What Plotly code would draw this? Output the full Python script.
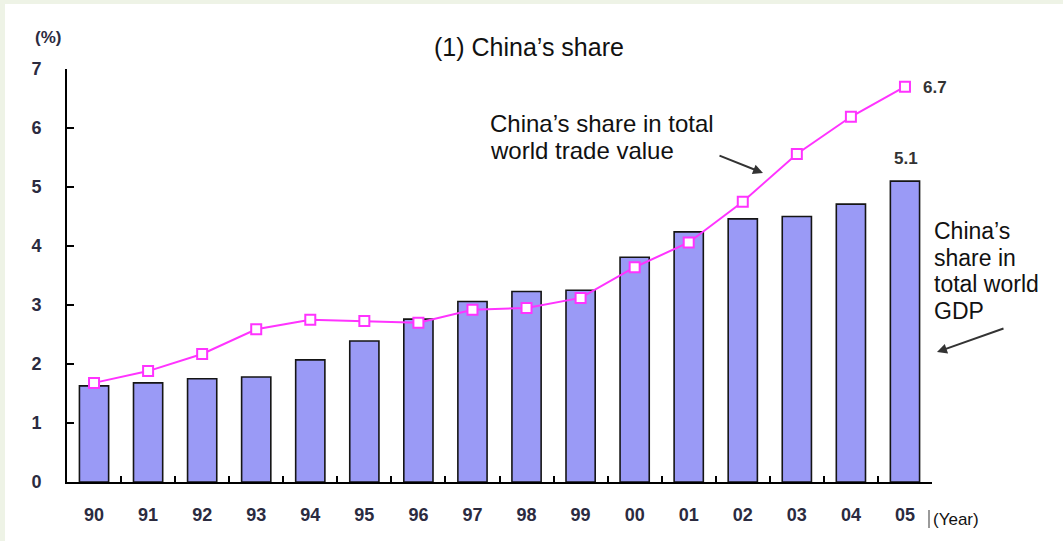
import plotly.graph_objects as go

# Years and China's share of the world total (%)
years = ["90", "91", "92", "93", "94", "95", "96", "97", "98", "99",
         "00", "01", "02", "03", "04", "05"]
gdp_share = [1.63, 1.68, 1.75, 1.78, 2.07, 2.39, 2.76, 3.06, 3.23, 3.25,
             3.81, 4.24, 4.46, 4.50, 4.71, 5.1]
trade_share = [1.68, 1.88, 2.17, 2.59, 2.75, 2.73, 2.70, 2.92, 2.95, 3.12,
               3.64, 4.06, 4.75, 5.56, 6.19, 6.7]
y_ticks = [0, 1, 2, 3, 4, 5, 6, 7]

W, H = 1063, 541
L, R, T, B = 67, 932, 69, 482


def px_x(p):
    return (p - L) / (R - L)


def px_y(p):
    return (B - p) / (B - T)


TEXT = "Liberation Sans, Arial, sans-serif"
TICK_COLOR = "#2b2b3f"

fig = go.Figure()
fig.add_trace(go.Bar(
    x=years, y=gdp_share, width=0.54,
    marker=dict(color="#9a9af6", line=dict(color="#151515", width=1.6)),
    hoverinfo="skip",
))
fig.add_trace(go.Scatter(
    x=years, y=trade_share, mode="lines+markers",
    line=dict(color="#ff33ff", width=2),
    marker=dict(symbol="square", size=10, color="white",
                line=dict(color="#ff33ff", width=2)),
    hoverinfo="skip",
))

annotations = [
    dict(text="(1) China’s share", x=px_x(529), y=px_y(47),
         xanchor="center", yanchor="middle", font=dict(size=25, color="#111")),
    dict(text="<b>(%)</b>", x=px_x(48), y=px_y(37),
         xanchor="center", yanchor="middle", font=dict(size=17, color=TICK_COLOR)),
    dict(text="China’s share in total", x=px_x(488), y=px_y(123),
         xanchor="left", yanchor="middle", font=dict(size=24, color="#111")),
    dict(text="world trade value", x=px_x(488), y=px_y(150),
         xanchor="left", yanchor="middle", font=dict(size=24, color="#111")),
    dict(text="<b>%.1f</b>" % trade_share[-1], x=px_x(921), y=px_y(87),
         xanchor="left", yanchor="middle", font=dict(size=17, color="#333")),
    dict(text="<b>%.1f</b>" % gdp_share[-1], x=px_x(906), y=px_y(158),
         xanchor="center", yanchor="middle", font=dict(size=17, color="#333")),
    dict(text="(Year)", x=px_x(931), y=px_y(519),
         xanchor="left", yanchor="middle", font=dict(size=17, color="#111")),
    # arrows
    dict(text="", x=px_x(763), y=px_y(173), ax=-45, ay=-18,
         showarrow=True, arrowhead=2, arrowsize=1, arrowwidth=2, arrowcolor="#333"),
    dict(text="", x=px_x(937), y=px_y(352), ax=68, ay=-24,
         showarrow=True, arrowhead=2, arrowsize=1, arrowwidth=2, arrowcolor="#333"),
]
for i, line in enumerate(["China’s", "share in", "total world", "GDP"]):
    annotations.append(dict(text=line, x=px_x(932), y=px_y(231 + 26.7 * i),
                            xanchor="left", yanchor="middle",
                            font=dict(size=23, color="#111")))
for a in annotations:
    a.setdefault("xref", "paper")
    a.setdefault("yref", "paper")
    a.setdefault("showarrow", False)

shapes = [
    # white panel over the tinted page
    dict(type="rect", xref="paper", yref="paper", layer="below",
         x0=px_x(5), x1=px_x(W + 5), y0=px_y(H + 5), y1=px_y(4),
         fillcolor="white", line=dict(width=0)),
    # small divider before the axis unit
    dict(type="line", xref="paper", yref="paper",
         x0=px_x(929), x1=px_x(929), y0=px_y(510), y1=px_y(528),
         line=dict(color="#9a9a9a", width=2)),
]

fig.update_layout(
    width=W, height=H,
    margin=dict(l=L, r=W - R, t=T, b=H - B, pad=0),
    paper_bgcolor="#eef3e6", plot_bgcolor="white",
    font=dict(family=TEXT, color="#111"),
    showlegend=False, bargap=0.46,
    annotations=annotations, shapes=shapes,
    xaxis=dict(type="category", range=[-0.5, len(years) - 0.5],
               showline=True, linecolor="black", linewidth=2,
               ticks="inside", ticklen=6, tickwidth=1.5, tickcolor="black",
               tickson="boundaries", showgrid=False, zeroline=False,
               ticklabelstandoff=15,
               tickfont=dict(size=18, color=TICK_COLOR, family=TEXT, weight="bold")),
    yaxis=dict(range=[0, 7], tickvals=y_ticks,
               showline=True, linecolor="black", linewidth=2,
               ticks="inside", ticklen=7, tickwidth=1.5, tickcolor="black",
               showgrid=False, zeroline=False, ticklabelstandoff=20,
               tickfont=dict(size=18, color=TICK_COLOR, family=TEXT, weight="bold")),
)

fig.write_html("out.html")
